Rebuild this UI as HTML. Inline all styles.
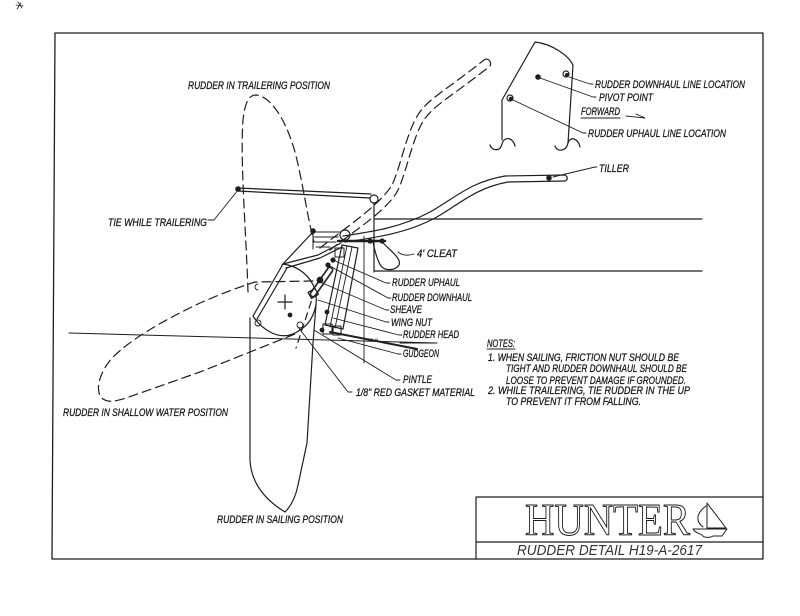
<!DOCTYPE html>
<html>
<head>
<meta charset="utf-8">
<style>
html,body{margin:0;padding:0;background:#fff;}
svg{display:block;}
text{font-family:"Liberation Sans",sans-serif;font-style:italic;fill:#1a1a1a;}
.lb text{stroke:#1a1a1a;stroke-width:0.3;}
</style>
</head>
<body>
<svg width="800" height="616" viewBox="0 0 800 616" xmlns="http://www.w3.org/2000/svg">
<rect width="800" height="616" fill="#fff"/>
<g fill="none" stroke="#1e1e1e" stroke-width="1.2" stroke-linecap="round" stroke-linejoin="round">
  <!-- scan mark -->
  <path d="M18 2 L22 8 M21 3 L17 9 M16 5 L23 6" stroke-width="0.8"/>
  <!-- frame -->
  <path d="M55 33 L763 33 L763 559 L52 559 Z" stroke-width="1.3"/>
  <!-- title block -->
  <path d="M476 559 V497 H763 M476 542 H763" stroke-width="1.2"/>

  <!-- hull lines -->
  <path d="M375 219 H702"/>
  <path d="M375 271 H702"/>
  <path d="M374 203 V272"/>
  <path d="M364 236 V363" stroke-width="0.9"/>

  <!-- waterline -->
  <path d="M69 333 L437 343" stroke-width="1"/>
  <!-- gudgeon bar -->
  <path d="M330 332 L417 349" stroke-width="2"/>

  <!-- trailering rudder (dashed) -->
  <path d="M248 292 C246 230 240 160 243 120 C245 102 249 95 256 95 C272 96 289 125 297 160 C304 190 308 220 314 242" stroke-dasharray="9 5"/>
  <path d="M315 290 L296 348" stroke-dasharray="7 5"/>

  <!-- shallow water rudder (dashed) -->
  <path d="M313 281 L255 282 C236 288 216 296 200 303 C160 322 130 340 112 358 C99 373 94 392 103 399 C109 403 116 401 126 398 L200 372 L295 334" stroke-dasharray="9 5"/>

  <!-- sailing rudder (solid) -->
  <path d="M250 318 L250 460 C251 480 262 498 285 512 C292 505 296 495 298 485 L307 443 L313 343 L316 305"/>

  <!-- rudder head lobe -->
  <path d="M253 316 L283 264 C298 266 311 276 315 290 C319 305 313 322 300 330 C292 336 283 338 272 333 C264 329 258 324 253 316"/>
  <path d="M257 319 L287 268"/>
  <path d="M283 264 L318 255 L341 243 M286 268 L320 258 L342 247"/>
  <path d="M313 232 L282 265"/>
  <path d="M278 302 H292 M285 295 V309"/>
  <circle cx="290" cy="315" r="1.8" fill="#1e1e1e"/>
  <path d="M258 284 A3 3 0 1 0 258 290" stroke-width="0.9"/>
  <circle cx="258" cy="323" r="3" stroke-width="0.9"/>
  <circle cx="300" cy="325" r="3" stroke-width="0.9"/>

  <!-- cheek -->
  <path d="M342 245 L358 248 L343 329 L325 325 Z"/>
  <path d="M347 246 L330 327 M352 247 L335 328" stroke-width="0.9"/>
  <rect x="323" y="324" width="9" height="10" stroke-width="1.1"/>
  <rect x="333" y="326" width="8" height="9" stroke-width="1.1"/>
  <rect x="335" y="248" width="9" height="9" stroke-width="1"/>

  <!-- sheave / wing nut assembly -->
  <path d="M330 270 L313 294" stroke-width="7" stroke="#2a2a2a"/>
  <path d="M330 270 L313 294" stroke-width="3.5" stroke="#fff"/>
  <circle cx="333" cy="260" r="2" fill="#1e1e1e"/>
  <circle cx="328" cy="265" r="2" fill="#1e1e1e"/>
  <circle cx="320" cy="280" r="2.8" fill="#1e1e1e"/>
  <circle cx="327" cy="312" r="1.8" fill="#1e1e1e"/>
  <circle cx="322" cy="330" r="1.8" fill="#1e1e1e"/>
  <rect x="309" y="290" width="8" height="7" transform="rotate(-30 313 293)"/>

  <!-- cleat comb -->
  <path d="M313 231 V249 M313 232 H340 M314 237 H338 M314 242 H336 M316 247 H330" stroke-width="1"/>
  <circle cx="313" cy="231" r="2.2" fill="#1e1e1e"/>
  <circle cx="345" cy="235" r="5"/>
  <path d="M338 241 L385 241" stroke-width="2.5"/>
  <circle cx="370" cy="241" r="2" fill="#1e1e1e"/>
  <circle cx="382" cy="241" r="2" fill="#1e1e1e"/>
  <!-- 4' cleat loop -->
  <path d="M373 242 C375 252 377 260 381 266 C385 271 395 271 399 265 C402 259 390 250 383 243"/>

  <!-- tie bar -->
  <path d="M238 188 L371 194 M238 191 L370 198"/>
  <circle cx="374" cy="199" r="4"/>
  <circle cx="238" cy="189" r="2.2" fill="#1e1e1e"/>

  <!-- solid tiller -->
  <path d="M343 236 C370 232 400 228 430 212 C455 198 470 182 505 176 L565 175"/>
  <path d="M345 242 C372 238 405 234 435 218 C460 204 475 188 508 182 L565 181"/>
  <path d="M565 175 C568 177 568 180 565 181"/>
  <circle cx="549" cy="178" r="2.2" fill="#1e1e1e"/>

  <!-- dashed tiller -->
  <path d="M320 248 C345 228 380 205 392 185 C400 168 405 140 415 120 C425 100 440 95 484 60" stroke-dasharray="9 5"/>
  <path d="M330 250 C355 230 388 210 398 190 C406 173 411 145 421 125 C431 106 446 101 490 66" stroke-dasharray="9 5"/>
  <path d="M484 60 C488 57 492 62 490 66"/>

  <!-- inset plate -->
  <path d="M502 140 L502 100 L535 42 C552 44 568 55 573 65 L568 143"/>
  <path d="M490 145 C492 151 500 152 502 144 C504 136 513 137 515 146"/>
  <path d="M555 146 C557 152 566 152 568 143 C570 136 578 138 580 147"/>
  <circle cx="538" cy="77" r="2.2" fill="#1e1e1e"/>
  <circle cx="566" cy="74" r="3"/>
  <circle cx="567" cy="75" r="1.4" fill="#1e1e1e"/>
  <circle cx="510" cy="98" r="3"/>
  <circle cx="511" cy="99" r="1.6" fill="#1e1e1e"/>

  <!-- inset leaders -->
  <path d="M569 77 L590 84 L593 84" stroke-width="0.9"/>
  <path d="M540 78 L593 97 L596 97" stroke-width="0.9"/>
  <path d="M513 100 L583 133 L586 133" stroke-width="0.9"/>
  <path d="M581 118 H620" stroke-width="0.9"/>
  <path d="M626 116 L645 118 L636 114" stroke-width="0.9"/>

  <!-- leaders -->
  <path d="M553 177 L595 167 L597 167" stroke-width="0.9"/>
  <path d="M208 220 L214 220 L238 190" stroke-width="0.9"/>
  <path d="M398 252 Q404 257 414 254" stroke-width="0.9"/>
  <path d="M333 260 L386 283 L390 283" stroke-width="0.9"/>
  <path d="M328 265 L388 298 L391 298" stroke-width="0.9"/>
  <path d="M320 282 L386 310 L389 310" stroke-width="0.9"/>
  <path d="M318 300 L386 322 L389 322" stroke-width="0.9"/>
  <path d="M333 318 L399 335 L402 335" stroke-width="0.9"/>
  <path d="M400 343 H437" stroke-width="0.9"/>
  <path d="M338 338 L398 354 L401 354" stroke-width="0.9"/>
  <path d="M314 330 L396 380 L400 380" stroke-width="0.9"/>
  <path d="M298 327 L348 392 L352 392" stroke-width="0.9"/>
  <path d="M487 349 H515" stroke-width="0.9"/>

  <!-- sailboat logo -->
  <path d="M707 503 V528 M707 503 L726 528 H707 M706 506 C698 512 694 520 703 527" stroke-width="1"/>
  <path d="M693 529 H727 L722 536 H713 C710 538 704 538 702 535 C699 533 695 533 693 529 Z" stroke-width="1"/>
</g>

<!-- labels -->
<g font-size="11" class="lb">
  <text x="188" y="89" textLength="142" lengthAdjust="spacingAndGlyphs">RUDDER IN TRAILERING POSITION</text>
  <text x="108" y="226" textLength="99" lengthAdjust="spacingAndGlyphs">TIE WHILE TRAILERING</text>
  <text x="63" y="416" textLength="165" lengthAdjust="spacingAndGlyphs">RUDDER IN SHALLOW WATER POSITION</text>
  <text x="217" y="523" textLength="126" lengthAdjust="spacingAndGlyphs">RUDDER IN SAILING POSITION</text>

  <text x="595" y="88" textLength="150" lengthAdjust="spacingAndGlyphs">RUDDER DOWNHAUL LINE LOCATION</text>
  <text x="599" y="101" textLength="54" lengthAdjust="spacingAndGlyphs">PIVOT POINT</text>
  <text x="581" y="115" textLength="39" lengthAdjust="spacingAndGlyphs">FORWARD</text>
  <text x="588" y="137" textLength="138" lengthAdjust="spacingAndGlyphs">RUDDER UPHAUL LINE LOCATION</text>
  <text x="599" y="172" textLength="30" lengthAdjust="spacingAndGlyphs">TILLER</text>

  <text x="417" y="257" textLength="40" lengthAdjust="spacingAndGlyphs">4' CLEAT</text>
  <text x="392" y="286" textLength="68" lengthAdjust="spacingAndGlyphs">RUDDER UPHAUL</text>
  <text x="392" y="301" textLength="80" lengthAdjust="spacingAndGlyphs">RUDDER DOWNHAUL</text>
  <text x="390" y="313" textLength="32" lengthAdjust="spacingAndGlyphs">SHEAVE</text>
  <text x="391" y="326" textLength="41" lengthAdjust="spacingAndGlyphs">WING NUT</text>
  <text x="403" y="338" textLength="56" lengthAdjust="spacingAndGlyphs">RUDDER HEAD</text>
  <text x="403" y="357" textLength="36" lengthAdjust="spacingAndGlyphs">GUDGEON</text>
  <text x="403" y="383" textLength="29" lengthAdjust="spacingAndGlyphs">PINTLE</text>
  <text x="356" y="396" textLength="119" lengthAdjust="spacingAndGlyphs">1/8" RED GASKET MATERIAL</text>
  <text x="368" y="341" font-size="4" textLength="10" lengthAdjust="spacingAndGlyphs" style="stroke-width:0.1">STA. 18</text>

  <text x="487" y="347" textLength="28" lengthAdjust="spacingAndGlyphs">NOTES:</text>
  <text x="488" y="361" textLength="191" lengthAdjust="spacingAndGlyphs">1. WHEN SAILING, FRICTION NUT SHOULD BE</text>
  <text x="506" y="372" textLength="181" lengthAdjust="spacingAndGlyphs">TIGHT AND RUDDER DOWNHAUL SHOULD BE</text>
  <text x="506" y="384" textLength="180" lengthAdjust="spacingAndGlyphs">LOOSE TO PREVENT DAMAGE IF GROUNDED.</text>
  <text x="488" y="394" textLength="202" lengthAdjust="spacingAndGlyphs">2. WHILE TRAILERING, TIE RUDDER IN THE UP</text>
  <text x="506" y="405" textLength="135" lengthAdjust="spacingAndGlyphs">TO PREVENT IT FROM FALLING.</text>
</g>

<text x="525" y="535" font-size="45" textLength="165" lengthAdjust="spacingAndGlyphs" style="font-family:'Liberation Serif',serif;font-style:normal;fill:none;stroke:#1e1e1e;stroke-width:1">HUNTER</text>
<text x="517" y="555" font-size="15" textLength="185" lengthAdjust="spacingAndGlyphs" style="fill:#333">RUDDER DETAIL H19-A-2617</text>
</svg>
</body>
</html>
